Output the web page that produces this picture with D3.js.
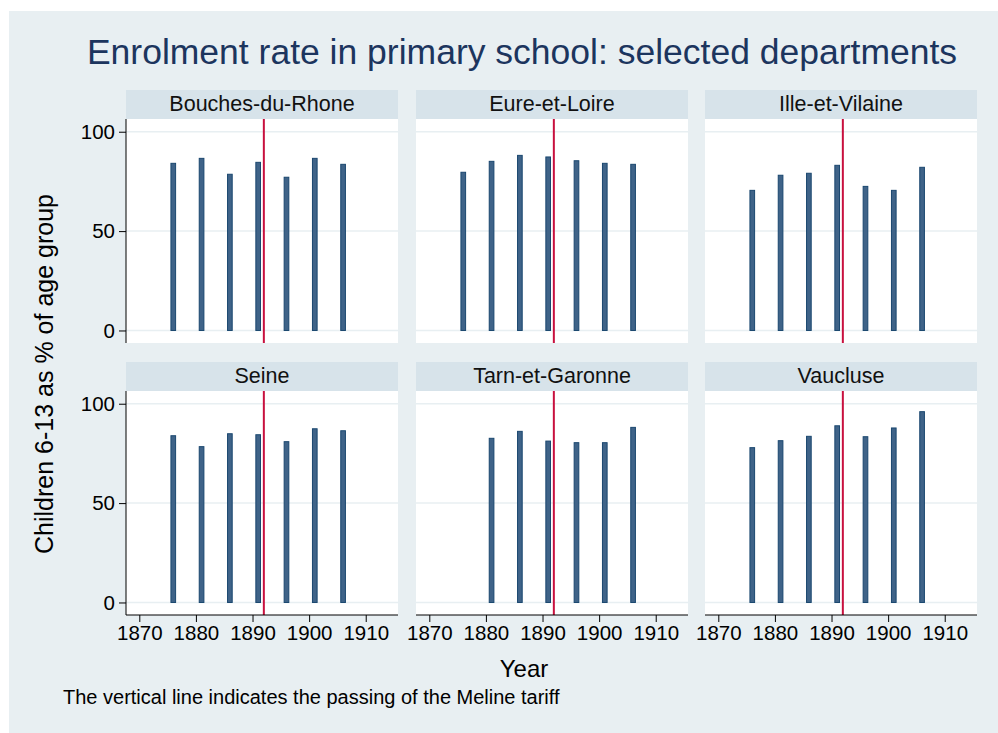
<!DOCTYPE html>
<html>
<head>
<meta charset="utf-8">
<script src="https://cdn.jsdelivr.net/npm/d3@7"></script>
<style>
  body { margin: 0; background: #fff; }
  text { font-family: "Liberation Sans", Arial, sans-serif; }
</style>
</head>
<body>
<div id="chart"></div>
<script>
// values (enrolment %, children 6-13)
var years = [1876, 1881, 1886, 1891, 1896, 1901, 1906];
var departments = ["Bouches-du-Rhone", "Eure-et-Loire", "Ille-et-Vilaine", "Seine", "Tarn-et-Garonne", "Vaucluse"];
var bouches = [84.1, 86.6, 78.6, 84.6, 77.1, 86.6, 83.6];
var eure = [79.6, 85.1, 88.1, 87.3, 85.4, 84.1, 83.6];
var ille = [70.5, 78.1, 79.1, 83.1, 72.5, 70.5, 82.1];
var seine = [83.9, 78.4, 84.9, 84.4, 80.9, 87.4, 86.4];
var tarn = [null, 82.6, 86.1, 81.2, 80.4, 80.4, 88.1];
var vaucluse = [77.9, 81.4, 83.6, 88.9, 83.4, 87.8, 96.0];
var xTicks = [1870, 1880, 1890, 1900, 1910];
var yTicks = [0, 50, 100];
var melineYear = 1892;

var series = [bouches, eure, ille, seine, tarn, vaucluse];

var width = 998, height = 733;
var colLeft = [126, 416, 705],
    panelW = 272,
    rowTop = [90, 362],
    stripH = 29,
    plotH = 224;

var svg = d3.select("#chart").append("svg")
    .attr("width", width)
    .attr("height", height);

// graph region
svg.append("rect")
    .attr("x", 9).attr("y", 11)
    .attr("width", width - 9).attr("height", height - 11)
    .attr("fill", "#e8eff2");

// title
svg.append("text")
    .attr("x", 522).attr("y", 64)
    .attr("text-anchor", "middle")
    .attr("font-size", 35.5)
    .attr("fill", "#1c355e")
    .text("Enrolment rate in primary school: selected departments");

var x = d3.scaleLinear().domain([1867.65, 1915.7]).range([0, panelW]);
var y = d3.scaleLinear().domain([-6.3, 106.4]).range([plotH, 0]);
var barW = x(1877) - x(1876);

departments.forEach(function (name, i) {
    var col = i % 3, row = Math.floor(i / 3);
    var g = svg.append("g")
        .attr("transform", "translate(" + colLeft[col] + "," + rowTop[row] + ")");

    // strip
    g.append("rect")
        .attr("width", panelW).attr("height", stripH)
        .attr("fill", "#d7e3ea");
    g.append("text")
        .attr("x", panelW / 2).attr("y", 20.5)
        .attr("text-anchor", "middle")
        .attr("font-size", 21.5)
        .attr("fill", "#111")
        .text(name);

    var plot = g.append("g").attr("transform", "translate(0," + stripH + ")");
    plot.append("rect")
        .attr("width", panelW).attr("height", plotH)
        .attr("fill", "#fff");

    // gridlines
    plot.selectAll(".grid")
        .data(yTicks)
        .enter()
        .append("line")
        .attr("x1", 0).attr("x2", panelW)
        .attr("y1", function (d) { return y(d); })
        .attr("y2", function (d) { return y(d); })
        .attr("stroke", "#e8eff2")
        .attr("stroke-width", 1.5);

    // bars
    var data = years.map(function (yr, j) { return { year: yr, v: series[i][j] }; })
        .filter(function (d) { return d.v != null; });
    plot.selectAll(".bar")
        .data(data)
        .enter()
        .append("rect")
        .attr("x", function (d) { return x(d.year) - barW / 2 + 0.5; })
        .attr("y", function (d) { return y(d.v); })
        .attr("width", barW - 1)
        .attr("height", function (d) { return y(0) - y(d.v); })
        .attr("fill", "#3f6388")
        .attr("stroke", "#1a476f")
        .attr("stroke-width", 1);

    // Meline tariff line
    plot.append("line")
        .attr("x1", x(melineYear)).attr("x2", x(melineYear))
        .attr("y1", 0).attr("y2", plotH)
        .attr("stroke", "#c8103e")
        .attr("stroke-width", 2);

    if (col === 0) {
        var ya = plot.append("g")
            .call(d3.axisLeft(y).tickValues(yTicks).tickSize(7).tickPadding(4));
        ya.select(".domain").attr("d", "M0,0V" + plotH).attr("stroke", "#000");
        ya.selectAll("text").attr("font-size", 20.5).attr("font-family", "Liberation Sans, Arial, sans-serif").attr("fill", "#000");
    }
    if (row === 1) {
        var xa = plot.append("g")
            .attr("transform", "translate(0," + plotH + ")")
            .call(d3.axisBottom(x).tickValues(xTicks).tickFormat(d3.format("d")).tickSize(7).tickPadding(3));
        xa.select(".domain").attr("d", "M0,0H" + panelW).attr("stroke", "#000");
        xa.selectAll("text").attr("font-size", 20.5).attr("font-family", "Liberation Sans, Arial, sans-serif").attr("fill", "#000");
    }
});

// axis titles
svg.append("text")
    .attr("transform", "translate(53,374) rotate(-90)")
    .attr("text-anchor", "middle")
    .attr("font-size", 25)
    .attr("fill", "#000")
    .text("Children 6-13 as % of age group");

svg.append("text")
    .attr("x", 524).attr("y", 677)
    .attr("text-anchor", "middle")
    .attr("font-size", 24)
    .attr("fill", "#000")
    .text("Year");

svg.append("text")
    .attr("x", 63).attr("y", 704)
    .attr("font-size", 20)
    .attr("fill", "#000")
    .text("The vertical line indicates the passing of the Meline tariff");
</script>
</body>
</html>
